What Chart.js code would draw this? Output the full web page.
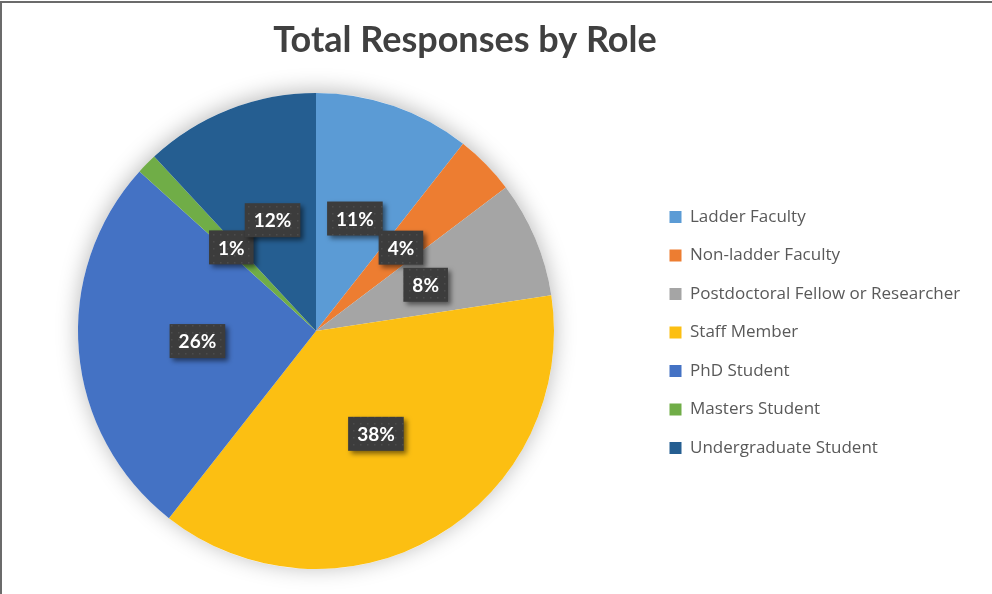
<!DOCTYPE html>
<html lang="en">
<head>
    <meta charset="UTF-8">
    <title>Total Responses by Role</title>
    <script src="https://cdn.jsdelivr.net/npm/chart.js"></script>
    <style>
        body { margin: 0; background: #fff; }
        .frame { position: relative; width: 992px; height: 594px; }
        .frame::before { content: ''; position: absolute; left: 0; top: 1px; right: 0; height: 2px; background: #6b6b6b; }
        .frame::after { content: ''; position: absolute; left: 0; top: 1px; bottom: 0; width: 2px; background: #6b6b6b; }
    </style>
</head>
<body>
    <div class="frame">
        <canvas id="role-chart" width="992" height="594"></canvas>
    </div>

    <script>
        const roles = ['Ladder Faculty', 'Non-ladder Faculty', 'Postdoctoral Fellow or Researcher',
            'Staff Member', 'PhD Student', 'Masters Student', 'Undergraduate Student'];
        const shares = [10.6, 4.1, 7.9, 38.0, 26.1, 1.4, 11.9];
        const roleColors = ['#5b9bd5', '#ed7d31', '#a5a5a5', '#fcbf12', '#4472c4', '#70ad47', '#255e91'];

        // where Excel put the pie and the legend
        const pieBox = { left: 78, top: 93, size: 476 };
        const legendPos = { left: 648, top: 187 };

        // dotted dark fill used behind the percent labels
        function labelPattern(ctx) {
            const c = document.createElement('canvas');
            c.width = 7; c.height = 7;
            const p = c.getContext('2d');
            p.fillStyle = '#3c3c3c';
            p.fillRect(0, 0, 7, 7);
            p.fillStyle = '#4c4c4c';
            p.fillRect(3, 3, 1.5, 1.5);
            return ctx.createPattern(c, 'repeat');
        }

        const placePlugin = {
            id: 'place',
            afterLayout(chart) {
                chart.chartArea = {
                    left: pieBox.left, top: pieBox.top,
                    right: pieBox.left + pieBox.size, bottom: pieBox.top + pieBox.size,
                    width: pieBox.size, height: pieBox.size
                };
                const lg = chart.legend;
                const w = lg.width;
                lg.left = legendPos.left;
                lg.right = legendPos.left + w;
                lg.top = legendPos.top;
                lg.bottom = 594;
                lg.height = 594 - legendPos.top;
            }
        };

        const shadowPlugin = {
            id: 'pieShadow',
            beforeDatasetsDraw(chart) {
                const arc = chart.getDatasetMeta(0).data[0];
                if (!arc) return;
                const ctx = chart.ctx;
                ctx.save();
                ctx.shadowColor = 'rgba(0,0,0,0.28)';
                ctx.shadowBlur = 22;
                ctx.shadowOffsetY = -2;
                ctx.fillStyle = '#ffffff';
                ctx.beginPath();
                ctx.arc(arc.x, arc.y, arc.outerRadius, 0, Math.PI * 2);
                ctx.fill();
                ctx.restore();
            }
        };

        const percentLabels = {
            id: 'percentLabels',
            afterDatasetsDraw(chart) {
                const ctx = chart.ctx;
                const total = shares.reduce((a, b) => a + b, 0);
                const fill = labelPattern(ctx);
                chart.getDatasetMeta(0).data.forEach((arc, i) => {
                    const pos = arc.tooltipPosition();
                    const text = Math.round(shares[i] / total * 100) + '%';
                    ctx.save();
                    ctx.font = 'bold 19px Lato';
                    const w = ctx.measureText(text).width + 18;
                    const h = 34;
                    ctx.shadowColor = 'rgba(0,0,0,0.5)';
                    ctx.shadowBlur = 5;
                    ctx.shadowOffsetX = 3;
                    ctx.shadowOffsetY = 3;
                    ctx.fillStyle = fill;
                    ctx.fillRect(pos.x - w / 2, pos.y - h / 2, w, h);
                    ctx.shadowColor = 'transparent';
                    ctx.fillStyle = '#ffffff';
                    ctx.textAlign = 'center';
                    ctx.textBaseline = 'middle';
                    ctx.fillText(text, pos.x, pos.y + 1);
                    ctx.restore();
                });
            }
        };

        new Chart(document.getElementById('role-chart'), {
            type: 'pie',
            data: {
                labels: roles,
                datasets: [{
                    data: shares,
                    backgroundColor: roleColors,
                    borderWidth: 0
                }]
            },
            options: {
                responsive: false,
                animation: false,
                layout: { padding: { left: 0, right: 62, top: 0, bottom: 0 } },
                plugins: {
                    title: {
                        display: true,
                        text: 'Total Responses by Role',
                        color: '#404040',
                        font: { family: 'Lato', size: 36, weight: 'bold' },
                        padding: { top: 19, bottom: 10 }
                    },
                    legend: {
                        position: 'right',
                        align: 'start',
                        labels: {
                            color: '#595959',
                            font: { family: 'Open Sans', size: 17 },
                            boxWidth: 12,
                            boxHeight: 12,
                            padding: 21.5
                        }
                    },
                    tooltip: { enabled: false }
                }
            },
            plugins: [placePlugin, shadowPlugin, percentLabels]
        });
    </script>
</body>
</html>
